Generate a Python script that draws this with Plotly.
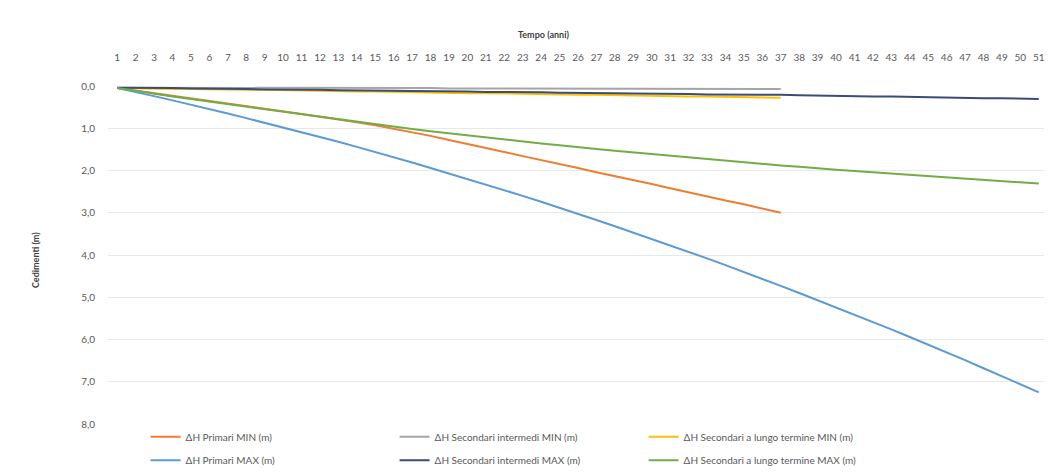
import plotly.graph_objects as go

# -- Dati ---------------------------------------------------------------
anni = list(range(1, 52))

primari_min = [0.05, 0.11, 0.17, 0.23, 0.29, 0.35, 0.41, 0.47, 0.53, 0.60,
               0.66, 0.73, 0.79, 0.86, 0.93, 1.01, 1.09, 1.18, 1.28, 1.37,
               1.47, 1.56, 1.66, 1.75, 1.85, 1.94, 2.04, 2.13, 2.23, 2.32,
               2.42, 2.52, 2.61, 2.71, 2.80, 2.90, 3.00]

sec_int_min = [0.04, 0.04, 0.04, 0.04, 0.04, 0.04, 0.04, 0.05, 0.05, 0.05,
               0.05, 0.05, 0.05, 0.05, 0.05, 0.05, 0.05, 0.05, 0.06, 0.06,
               0.06, 0.06, 0.06, 0.06, 0.06, 0.06, 0.06, 0.06, 0.06, 0.07,
               0.07, 0.07, 0.07, 0.07, 0.07, 0.07, 0.07]

sec_lungo_min = [0.05, 0.06, 0.06, 0.07, 0.07, 0.08, 0.08, 0.09, 0.09, 0.10,
                 0.11, 0.11, 0.12, 0.13, 0.13, 0.14, 0.15, 0.15, 0.16, 0.17,
                 0.17, 0.18, 0.19, 0.19, 0.20, 0.21, 0.21, 0.22, 0.23, 0.24,
                 0.24, 0.25, 0.25, 0.26, 0.27, 0.27, 0.28]

primari_max = [0.05, 0.14, 0.24, 0.34, 0.44, 0.55, 0.65, 0.76, 0.87, 0.98,
               1.09, 1.21, 1.32, 1.44, 1.56, 1.69, 1.81, 1.94, 2.07, 2.20,
               2.33, 2.47, 2.60, 2.74, 2.88, 3.03, 3.17, 3.32, 3.47, 3.62,
               3.77, 3.93, 4.08, 4.24, 4.40, 4.57, 4.73, 4.90, 5.07, 5.24,
               5.41, 5.59, 5.76, 5.94, 6.12, 6.31, 6.49, 6.68, 6.87, 7.06,
               7.25]

sec_int_max = [0.04, 0.04, 0.05, 0.05, 0.06, 0.06, 0.07, 0.07, 0.08, 0.08,
               0.09, 0.09, 0.10, 0.10, 0.11, 0.11, 0.12, 0.12, 0.13, 0.13,
               0.14, 0.14, 0.15, 0.15, 0.16, 0.16, 0.17, 0.17, 0.18, 0.18,
               0.19, 0.19, 0.20, 0.20, 0.20, 0.21, 0.21, 0.22, 0.23, 0.23,
               0.24, 0.25, 0.25, 0.26, 0.27, 0.27, 0.28, 0.29, 0.29, 0.30,
               0.31]

sec_lungo_max = [0.05, 0.12, 0.18, 0.25, 0.31, 0.37, 0.43, 0.49, 0.55, 0.61,
                 0.67, 0.73, 0.79, 0.85, 0.91, 0.97, 1.02, 1.07, 1.12, 1.17,
                 1.22, 1.27, 1.31, 1.36, 1.40, 1.45, 1.49, 1.53, 1.57, 1.61,
                 1.65, 1.69, 1.73, 1.77, 1.80, 1.84, 1.88, 1.91, 1.95, 1.98,
                 2.01, 2.04, 2.07, 2.10, 2.13, 2.16, 2.19, 2.22, 2.25, 2.28,
                 2.31]

serie = [
    ("ΔH Primari MIN (m)", primari_min, "#ED7D31", "legend"),
    ("ΔH Secondari intermedi MIN (m)", sec_int_min, "#A5A5A5", "legend"),
    ("ΔH Secondari a lungo termine MIN (m)", sec_lungo_min, "#FFC000", "legend"),
    ("ΔH Primari MAX (m)", primari_max, "#5B9BD5", "legend2"),
    ("ΔH Secondari intermedi MAX (m)", sec_int_max, "#3A4D78", "legend2"),
    ("ΔH Secondari a lungo termine MAX (m)", sec_lungo_max, "#70AD47", "legend2"),
]

grigio = "#595959"
font = "Lato"

# la pagina ha 8 px di margine: la figura è più piccola di 8 px
W, H = 1044, 464
L, T = 100, 78
PW, PH = 940, 338

# -- Grafico ------------------------------------------------------------
fig = go.Figure()

for nome, valori, colore, leg in serie:
    fig.add_trace(go.Scatter(
        x=anni[:len(valori)],
        y=valori,
        name=nome,
        mode="lines",
        line=dict(color=colore, width=2),
        legend=leg,
        cliponaxis=False,
    ))

legenda = dict(
    orientation="h",
    xanchor="left",
    yanchor="middle",
    x=0.04,
    entrywidth=204,
    itemwidth=30,
    font=dict(family=font, size=10, color=grigio),
    bgcolor="rgba(0,0,0,0)",
)

fig.update_layout(
    width=W,
    height=H,
    margin=dict(l=L, r=W - L - PW, t=T, b=H - T - PH, autoexpand=False),
    paper_bgcolor="white",
    plot_bgcolor="white",
    separators=",.",
    font=dict(family=font, size=10, color=grigio),
    legend=dict(legenda, y=-0.038),
    legend2=dict(legenda, y=-0.107),
    xaxis=dict(
        side="top",
        range=[0.5, 51.5],
        tickmode="array",
        tickvals=anni,
        ticks="outside",
        ticklen=20,
        tickcolor="rgba(0,0,0,0)",
        showgrid=False,
        zeroline=False,
        showline=False,
        automargin=False,
        tickfont=dict(family=font, size=10, color=grigio),
    ),
    yaxis=dict(
        range=[8, 0],
        dtick=1,
        tickformat=".1f",
        ticks="outside",
        ticklen=10,
        tickcolor="rgba(0,0,0,0)",
        showgrid=True,
        gridcolor="#E8E8E8",
        gridwidth=1,
        zeroline=False,
        showline=False,
        automargin=False,
        tickfont=dict(family=font, size=10, color=grigio),
    ),
    annotations=[
        dict(text="<b>Tempo (anni)</b>", xref="paper", yref="paper",
             x=(543 - 108) / PW, y=(424 - 34) / PH, showarrow=False,
             xanchor="center", yanchor="middle",
             font=dict(family=font, size=9, color="#404040")),
        dict(text="<b>Cedimenti (m)</b>", xref="paper", yref="paper",
             x=(35 - 108) / PW, y=(424 - 260) / PH, showarrow=False,
             textangle=-90, xanchor="center", yanchor="middle",
             font=dict(family=font, size=9, color="#404040")),
    ],
)

fig.write_html("out.html")
